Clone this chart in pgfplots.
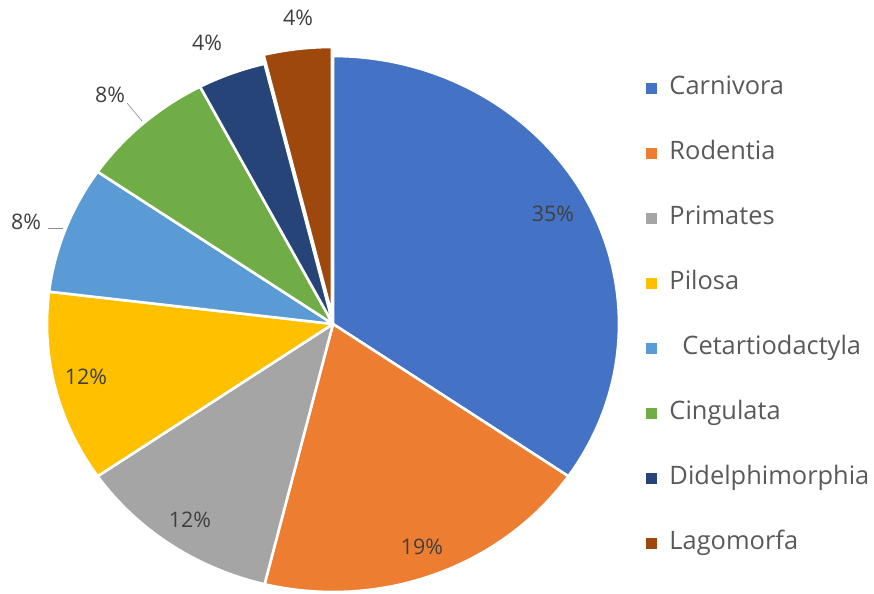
\documentclass[border=0pt]{standalone}
\usepackage{fontspec}
\setmainfont{Open Sans}
\usepackage{pgfplots}
\pgfplotsset{compat=1.18}
\definecolor{cA}{HTML}{4472C4}
\definecolor{cB}{HTML}{ED7D31}
\definecolor{cC}{HTML}{A5A5A5}
\definecolor{cD}{HTML}{FFC000}
\definecolor{cE}{HTML}{5B9BD5}
\definecolor{cF}{HTML}{70AD47}
\definecolor{cG}{HTML}{264478}
\definecolor{cH}{HTML}{9E480E}
\definecolor{lbl}{HTML}{404040}
\definecolor{leg}{HTML}{595959}
% counts (26 in total): Carnivora 9, Rodentia 5, Primates 3, Pilosa 3,
% Cetartiodactyla 2, Cingulata 2, Didelphimorphia 1, Lagomorfa 1
\def\rx{286}\def\ry{268}
\pgfmathsetmacro\aA{90}
\pgfmathsetmacro\aB{90-360*9/26}
\pgfmathsetmacro\aC{90-360*14/26}
\pgfmathsetmacro\aD{90-360*17/26}
\pgfmathsetmacro\aE{90-360*20/26}
\pgfmathsetmacro\aF{90-360*22/26}
\pgfmathsetmacro\aG{90-360*24/26}
\pgfmathsetmacro\aH{90-360*25/26}
\pgfmathsetmacro\aI{90-360*26/26}
% slice: #1 low angle, #2 high angle, #3 colour, #4 centre x, #5 centre y
\newcommand\slice[5]{%
  \addplot[fill=#3, draw=white, line width=2.6pt, domain=#1:#2, samples=80,
    variable=\t, line join=round]
    ({#4+\rx*cos(\t)},{#5-\ry*sin(\t)}) -- (axis cs:#4,#5) -- cycle;
}
\begin{document}
\begin{tikzpicture}
\begin{axis}[
  scale only axis, width=874bp, height=592bp,
  xmin=0, xmax=874, ymin=0, ymax=592, y dir=reverse,
  hide axis, clip=false, no markers,
  legend style={draw=none, fill=none, at={(axis cs:643,74)}, anchor=north west,
    font=\fontsize{25.5}{30}\selectfont, text=leg,
    nodes={inner sep=0pt, text height=18bp, text depth=5bp},
    row sep=42bp},
  legend cell align=left,
  legend image code/.code={\fill[#1, draw=none] (0bp,-6.5bp) rectangle (11bp,4.5bp);
    \path (22bp,0bp);},
]
\path (rel axis cs:0,0) rectangle (rel axis cs:1,1);
\slice{\aB}{\aA}{cA}{333}{324}
\addlegendentry{Carnivora}
\slice{\aC}{\aB}{cB}{333}{324}
\addlegendentry{Rodentia}
\slice{\aD}{\aC}{cC}{333}{324}
\addlegendentry{Primates}
\slice{\aE}{\aD}{cD}{333}{324}
\addlegendentry{Pilosa}
\slice{\aF}{\aE}{cE}{333}{324}
\addlegendentry{\hspace{13bp}Cetartiodactyla}
\slice{\aG}{\aF}{cF}{333}{324}
\addlegendentry{Cingulata}
\slice{\aH}{\aG}{cG}{333}{324}
\addlegendentry{Didelphimorphia}
\slice{\aI}{\aH}{cH}{332}{315}
\addlegendentry{Lagomorfa}
% leader lines
\addplot[forget plot, color=lbl!60, line width=0.6pt] coordinates {(48,228) (63,228)};
\addplot[forget plot, color=lbl!60, line width=0.6pt] coordinates {(127,103) (142,121)};
% data labels
\begin{scope}[every node/.style={font=\fontsize{21.5}{25}\selectfont, text=lbl}]
\node at (axis cs:553,214) {35\%};
\node at (axis cs:422,547) {19\%};
\node at (axis cs:190,520) {12\%};
\node at (axis cs:86,377) {12\%};
\node at (axis cs:26,222) {8\%};
\node at (axis cs:110,95) {8\%};
\node at (axis cs:207,43) {4\%};
\node at (axis cs:298,18) {4\%};
\end{scope}
\end{axis}
\end{tikzpicture}
\end{document}
